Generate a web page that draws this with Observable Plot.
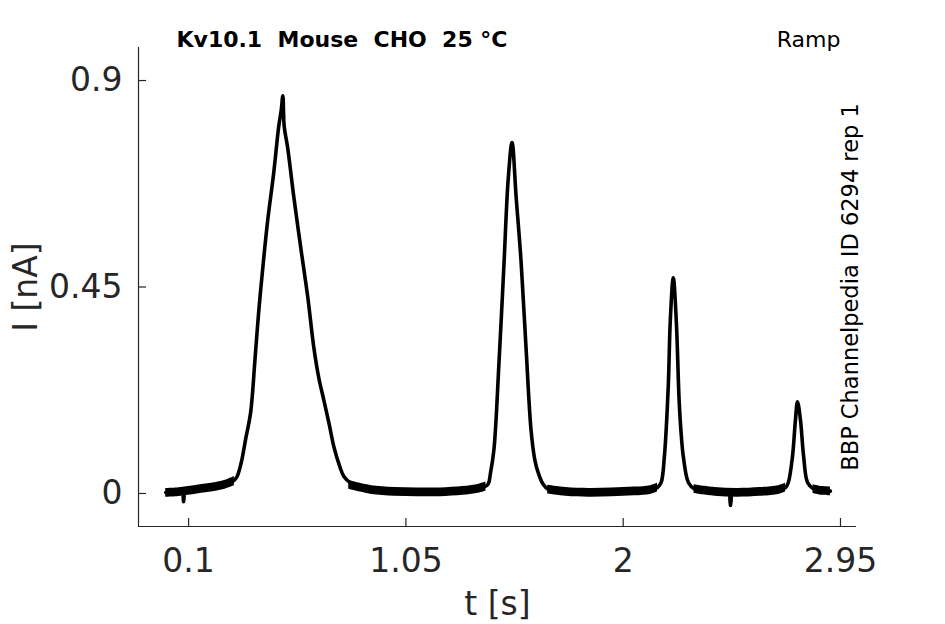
<!DOCTYPE html>
<html>
<head>
<meta charset="utf-8">
<script src="https://cdn.jsdelivr.net/npm/d3@7"></script>
<script src="https://cdn.jsdelivr.net/npm/@observablehq/plot@0.6"></script>
<style>
  body { margin: 0; background: #fff; }
  #chart svg { display: block; }
</style>
</head>
<body>
<div id="chart"></div>
<script>
// ---- Data ----
const titleText = "Kv10.1  Mouse  CHO  25 °C";
const protocolText = "Ramp";
const sideText = "BBP Channelpedia ID 6294 rep 1";
const xLabel = "t [s]";
const yLabel = "I [nA]";

const xTicks = [0.1, 1.05, 2, 2.95];
const yTicks = [0, 0.45, 0.9];
const xDomain = [-0.119, 3.02];
const yDomain = [-0.072, 0.972];

// current trace (t in s, I in nA)
const traceT = [
  0.000, 0.030, 0.077, 0.078, 0.079, 0.100, 0.150, 0.200, 0.250, 0.290, 0.310, 0.330, 0.350, 0.371, 0.390,
  0.406, 0.426, 0.446, 0.472, 0.494, 0.505, 0.512, 0.518, 0.533, 0.560, 0.590, 0.621, 0.647,
  0.670, 0.691, 0.715, 0.735, 0.760, 0.779, 0.810, 0.840, 0.900, 1.000, 1.100, 1.200, 1.300,
  1.360, 1.390, 1.409, 1.420, 1.435, 1.457, 1.479, 1.497, 1.514, 1.532, 1.554, 1.575, 1.597,
  1.613, 1.628, 1.650, 1.672, 1.750, 1.850, 1.950, 2.050, 2.120, 2.150, 2.166, 2.180, 2.197,
  2.206, 2.219, 2.232, 2.245, 2.255, 2.263, 2.285, 2.311, 2.400, 2.468, 2.469, 2.470, 2.500,
  2.600, 2.680, 2.710, 2.722, 2.740, 2.753, 2.762, 2.775, 2.789, 2.806, 2.832, 2.870, 2.906
];
const traceI = [
  0.002, 0.002, 0.003, -0.018, 0.003, 0.006, 0.010, 0.013, 0.018, 0.025, 0.035, 0.067, 0.120, 0.176, 0.290,
  0.393, 0.500, 0.596, 0.698, 0.800, 0.835, 0.867, 0.800, 0.754, 0.646, 0.537, 0.428, 0.320,
  0.250, 0.204, 0.150, 0.102, 0.060, 0.037, 0.022, 0.015, 0.008, 0.004, 0.003, 0.003, 0.006,
  0.010, 0.014, 0.020, 0.045, 0.096, 0.285, 0.502, 0.683, 0.765, 0.646, 0.502, 0.320, 0.139,
  0.075, 0.046, 0.020, 0.009, 0.004, 0.002, 0.003, 0.005, 0.008, 0.013, 0.024, 0.080, 0.233,
  0.378, 0.470, 0.378, 0.198, 0.120, 0.080, 0.024, 0.010, 0.004, 0.002, -0.026, 0.002, 0.002,
  0.004, 0.008, 0.013, 0.024, 0.080, 0.160, 0.200, 0.160, 0.080, 0.024, 0.010, 0.006, 0.005
];

// noise envelope of the baseline stretches (lower / upper edge of the noisy trace)
const envSeg = [0,0,0,0,0,0,0, 1,1,1,1,1,1,1,1,1, 2,2,2,2,2,2,2, 3,3,3,3,3,3, 4,4,4];
const envT   = [0.00,0.05,0.10,0.15,0.20,0.25,0.30, 0.80,0.85,0.90,1.00,1.10,1.20,1.30,1.36,1.40,
                1.67,1.75,1.85,1.95,2.05,2.12,2.15, 2.31,2.40,2.50,2.60,2.68,2.71, 2.83,2.87,2.906];
const envLo  = [-0.008,-0.007,-0.004,0.000,0.003,0.008,0.017, 0.009,0.003,-0.002,-0.006,-0.007,-0.007,-0.004,0.000,0.005,
                -0.001,-0.006,-0.008,-0.007,-0.005,-0.002,0.003, 0.000,-0.006,-0.008,-0.006,-0.002,0.003, 0.000,-0.004,-0.005];
const envHi  = [0.011,0.012,0.015,0.019,0.022,0.027,0.037, 0.029,0.022,0.017,0.013,0.012,0.012,0.015,0.019,0.025,
                0.018,0.013,0.011,0.012,0.014,0.017,0.022, 0.019,0.013,0.011,0.013,0.017,0.022, 0.019,0.015,0.014];

// ---- Build tables ----
const trace = traceT.map((t, i) => ({t, I: traceI[i]}));
const env = envT.map((t, i) => ({t, lo: envLo[i], hi: envHi[i], seg: envSeg[i]}));

const W = 945, H = 624;
const mLeft = 138, mRight = 89, mTop = 47, mBottom = 98;
const frameW = W - mLeft - mRight, frameH = H - mTop - mBottom;
const axisColor = "#262626";

const chart = Plot.plot({
  width: W,
  height: H,
  marginLeft: mLeft,
  marginRight: mRight,
  marginTop: mTop,
  marginBottom: mBottom,
  style: {fontFamily: "DejaVu Sans", color: axisColor, background: "#fff"},
  x: {domain: xDomain},
  y: {domain: yDomain},
  marks: [
    // axis lines
    Plot.ruleX([xDomain[0]], {stroke: axisColor, strokeWidth: 1.2}),
    Plot.ruleY([yDomain[0]], {stroke: axisColor, strokeWidth: 1.2}),
    // inward ticks
    Plot.ruleX(xTicks, {x: d => d, insetTop: frameH - 8, stroke: axisColor, strokeWidth: 1.2}),
    Plot.ruleY(yTicks, {y: d => d, insetRight: frameW - 8, stroke: axisColor, strokeWidth: 1.2}),
    Plot.axisX({ticks: xTicks, tickSize: 0, tickPadding: 22, fontSize: 33, tickFormat: d => String(d), label: null}),
    Plot.axisY({ticks: yTicks, tickSize: 0, tickPadding: 16, fontSize: 33, tickFormat: d => String(d), label: null}),
    // noise envelope and trace
    Plot.areaY(env, {x: "t", y1: "lo", y2: "hi", z: "seg", fill: "black", curve: "catmull-rom"}),
    Plot.line(trace, {x: "t", y: "I", stroke: "black", strokeWidth: 3.6, strokeLinejoin: "round", curve: "catmull-rom"}),
    // labels
    Plot.text([xLabel], {frameAnchor: "bottom", dy: 78, fontSize: 33, textAnchor: "middle", lineAnchor: "middle", fill: axisColor}),
    Plot.text([yLabel], {frameAnchor: "left", dx: -112, rotate: -90, fontSize: 33, textAnchor: "middle", lineAnchor: "middle", fill: axisColor}),
    Plot.text([titleText], {frameAnchor: "top-left", dx: 38, dy: -8, textAnchor: "start", lineAnchor: "middle", fontSize: 22, fontWeight: "bold", fill: "black"}),
    Plot.text([protocolText], {frameAnchor: "top-right", dx: -16, dy: -8, textAnchor: "end", lineAnchor: "middle", fontSize: 22, fill: "black"}),
    Plot.text([sideText], {frameAnchor: "right", dx: -6, rotate: -90, textAnchor: "middle", lineAnchor: "middle", fontSize: 22.5, fill: "black"})
  ]
});
document.getElementById("chart").appendChild(chart);
</script>
</body>
</html>
